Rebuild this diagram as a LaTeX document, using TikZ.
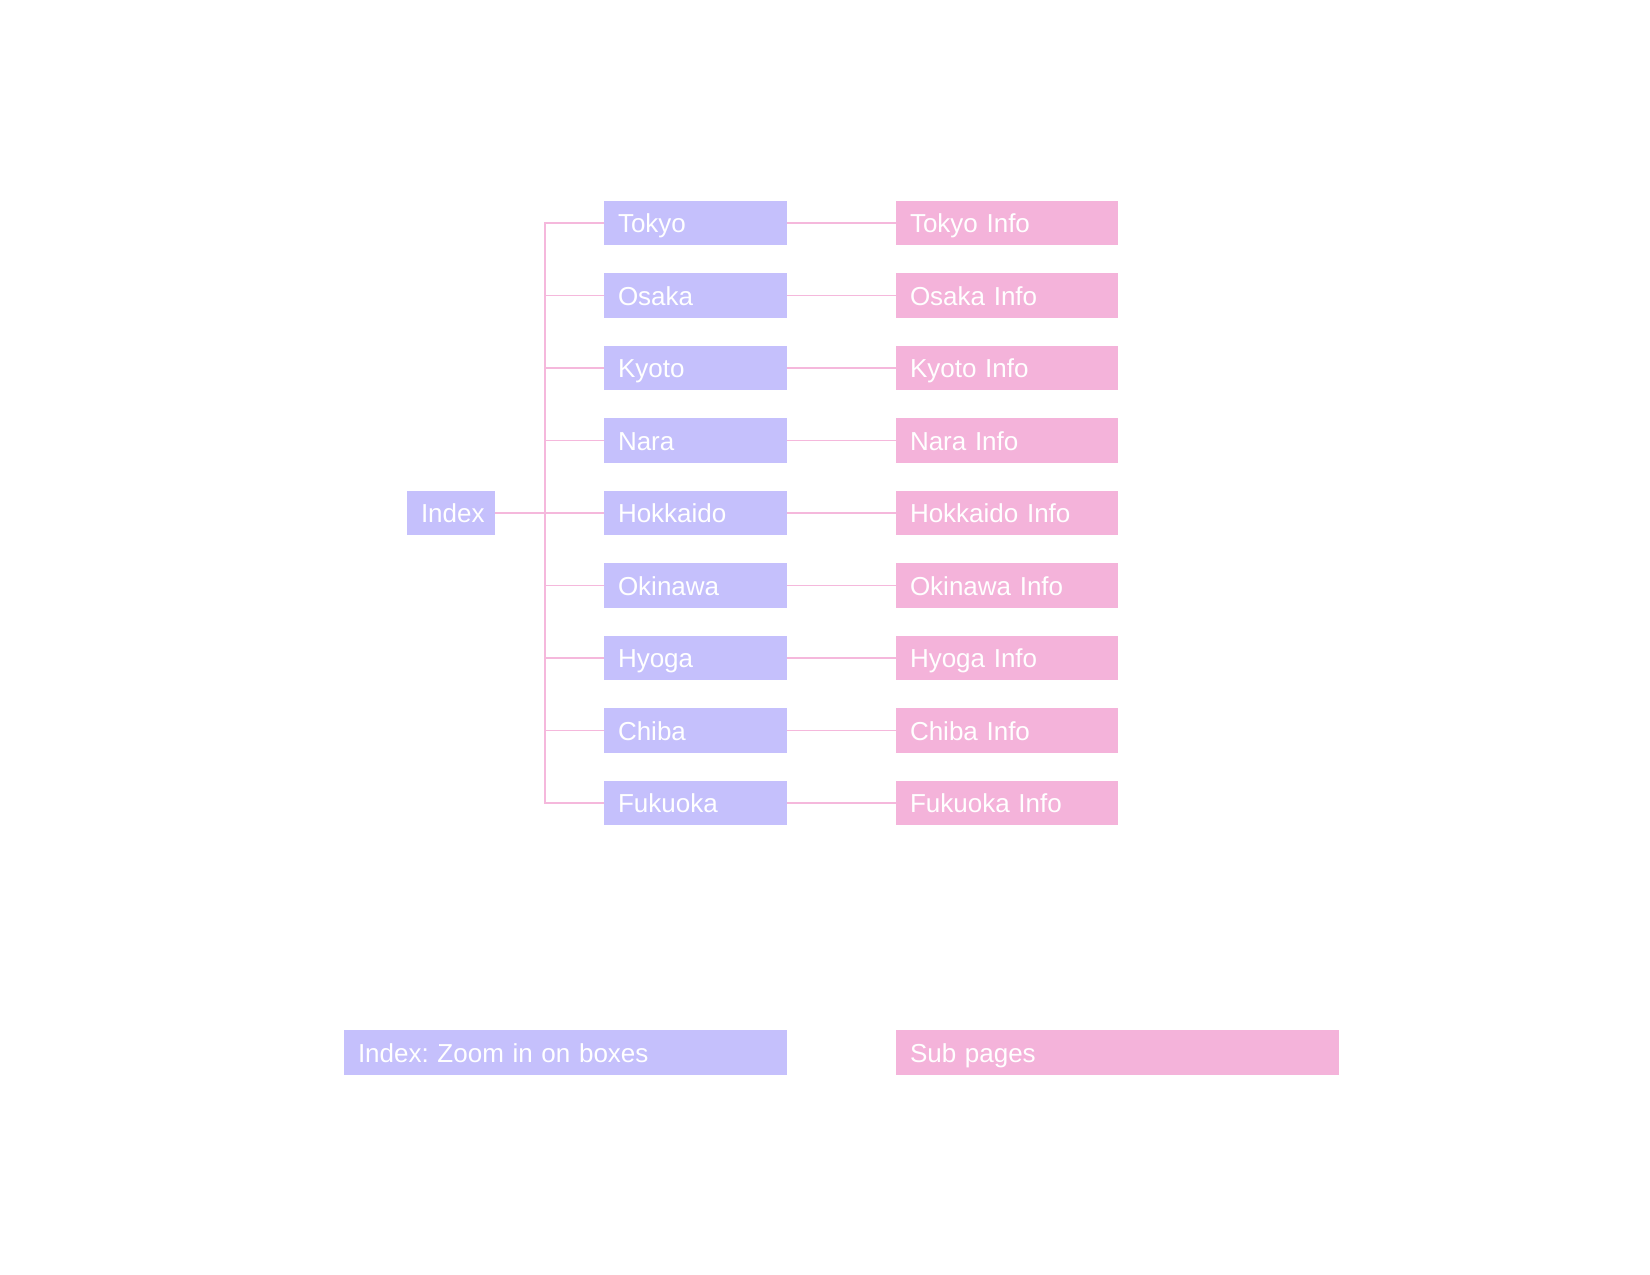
\documentclass[tikz,border=0pt]{standalone}
\usepackage{fontspec}
\setmainfont{Liberation Sans}
\usepackage{xcolor}
\usepackage{tikz}
\usetikzlibrary{positioning,calc}
\frenchspacing

\definecolor{lavender}{HTML}{C5C0FC}
\definecolor{rosepink}{HTML}{F4B3DA}
\definecolor{linkpink}{HTML}{F5B8DC}

\tikzset{
  city/.style={rectangle, fill=lavender, text=white, anchor=west, outer sep=0pt,
    minimum width=91.5pt, inner ysep=0pt, text height=16pt, text depth=6.25pt,
    inner xsep=7pt, text width=77.5pt, align=left,
    font=\fontsize{13}{15}\selectfont},
  info/.style={city, fill=rosepink, minimum width=111pt, text width=97pt},
  link/.style={draw=linkpink, line width=0.75pt}
}

\begin{document}
\begin{tikzpicture}[node distance=14pt and 54.5pt]
\useasboundingbox (0,0) rectangle (825pt,-637.5pt);
\node[city] (Tokyo) at (302pt,-111.5pt) {Tokyo};
\node[city, below=of Tokyo.south west, anchor=north west] (Osaka) {Osaka};
\node[city, below=of Osaka.south west, anchor=north west] (Kyoto) {Kyoto};
\node[city, below=of Kyoto.south west, anchor=north west] (Nara) {Nara};
\node[city, below=of Nara.south west, anchor=north west] (Hokkaido) {Hokkaido};
\node[city, below=of Hokkaido.south west, anchor=north west] (Okinawa) {Okinawa};
\node[city, below=of Okinawa.south west, anchor=north west] (Hyoga) {Hyoga};
\node[city, below=of Hyoga.south west, anchor=north west] (Chiba) {Chiba};
\node[city, below=of Chiba.south west, anchor=north west] (Fukuoka) {Fukuoka};
\node[city, minimum width=44pt, text width=30pt] (Index) at (Hokkaido.west -| 203.5pt,0) {Index};

\node[info, right=of Tokyo] (TokyoInfo) {Tokyo Info};
\node[info, right=of Osaka] (OsakaInfo) {Osaka Info};
\node[info, right=of Kyoto] (KyotoInfo) {Kyoto Info};
\node[info, right=of Nara] (NaraInfo) {Nara Info};
\node[info, right=of Hokkaido] (HokkaidoInfo) {Hokkaido Info};
\node[info, right=of Okinawa] (OkinawaInfo) {Okinawa Info};
\node[info, right=of Hyoga] (HyogaInfo) {Hyoga Info};
\node[info, right=of Chiba] (ChibaInfo) {Chiba Info};
\node[info, right=of Fukuoka] (FukuokaInfo) {Fukuoka Info};

% legend
\node[city, minimum width=221.5pt, text width=207.5pt] (KeyIndex) at (172pt,-526.25pt) {Index: Zoom in on boxes};
\node[info, minimum width=221.5pt, text width=207.5pt] (KeySub) at (448pt,-526.25pt) {Sub pages};

% tree
\coordinate (spine) at (272.5pt,0);
\draw[link] (Index.east) -- (Hokkaido.west);
\draw[link] (Tokyo.west) -- (Tokyo.west -| spine) |- (Fukuoka.west);
\draw[link] (Osaka.west) -- (Osaka.west -| spine);
\draw[link] (Kyoto.west) -- (Kyoto.west -| spine);
\draw[link] (Nara.west) -- (Nara.west -| spine);
\draw[link] (Okinawa.west) -- (Okinawa.west -| spine);
\draw[link] (Hyoga.west) -- (Hyoga.west -| spine);
\draw[link] (Chiba.west) -- (Chiba.west -| spine);

\draw[link] (Tokyo) -- (TokyoInfo);
\draw[link] (Osaka) -- (OsakaInfo);
\draw[link] (Kyoto) -- (KyotoInfo);
\draw[link] (Nara) -- (NaraInfo);
\draw[link] (Hokkaido) -- (HokkaidoInfo);
\draw[link] (Okinawa) -- (OkinawaInfo);
\draw[link] (Hyoga) -- (HyogaInfo);
\draw[link] (Chiba) -- (ChibaInfo);
\draw[link] (Fukuoka) -- (FukuokaInfo);
\end{tikzpicture}
\end{document}
